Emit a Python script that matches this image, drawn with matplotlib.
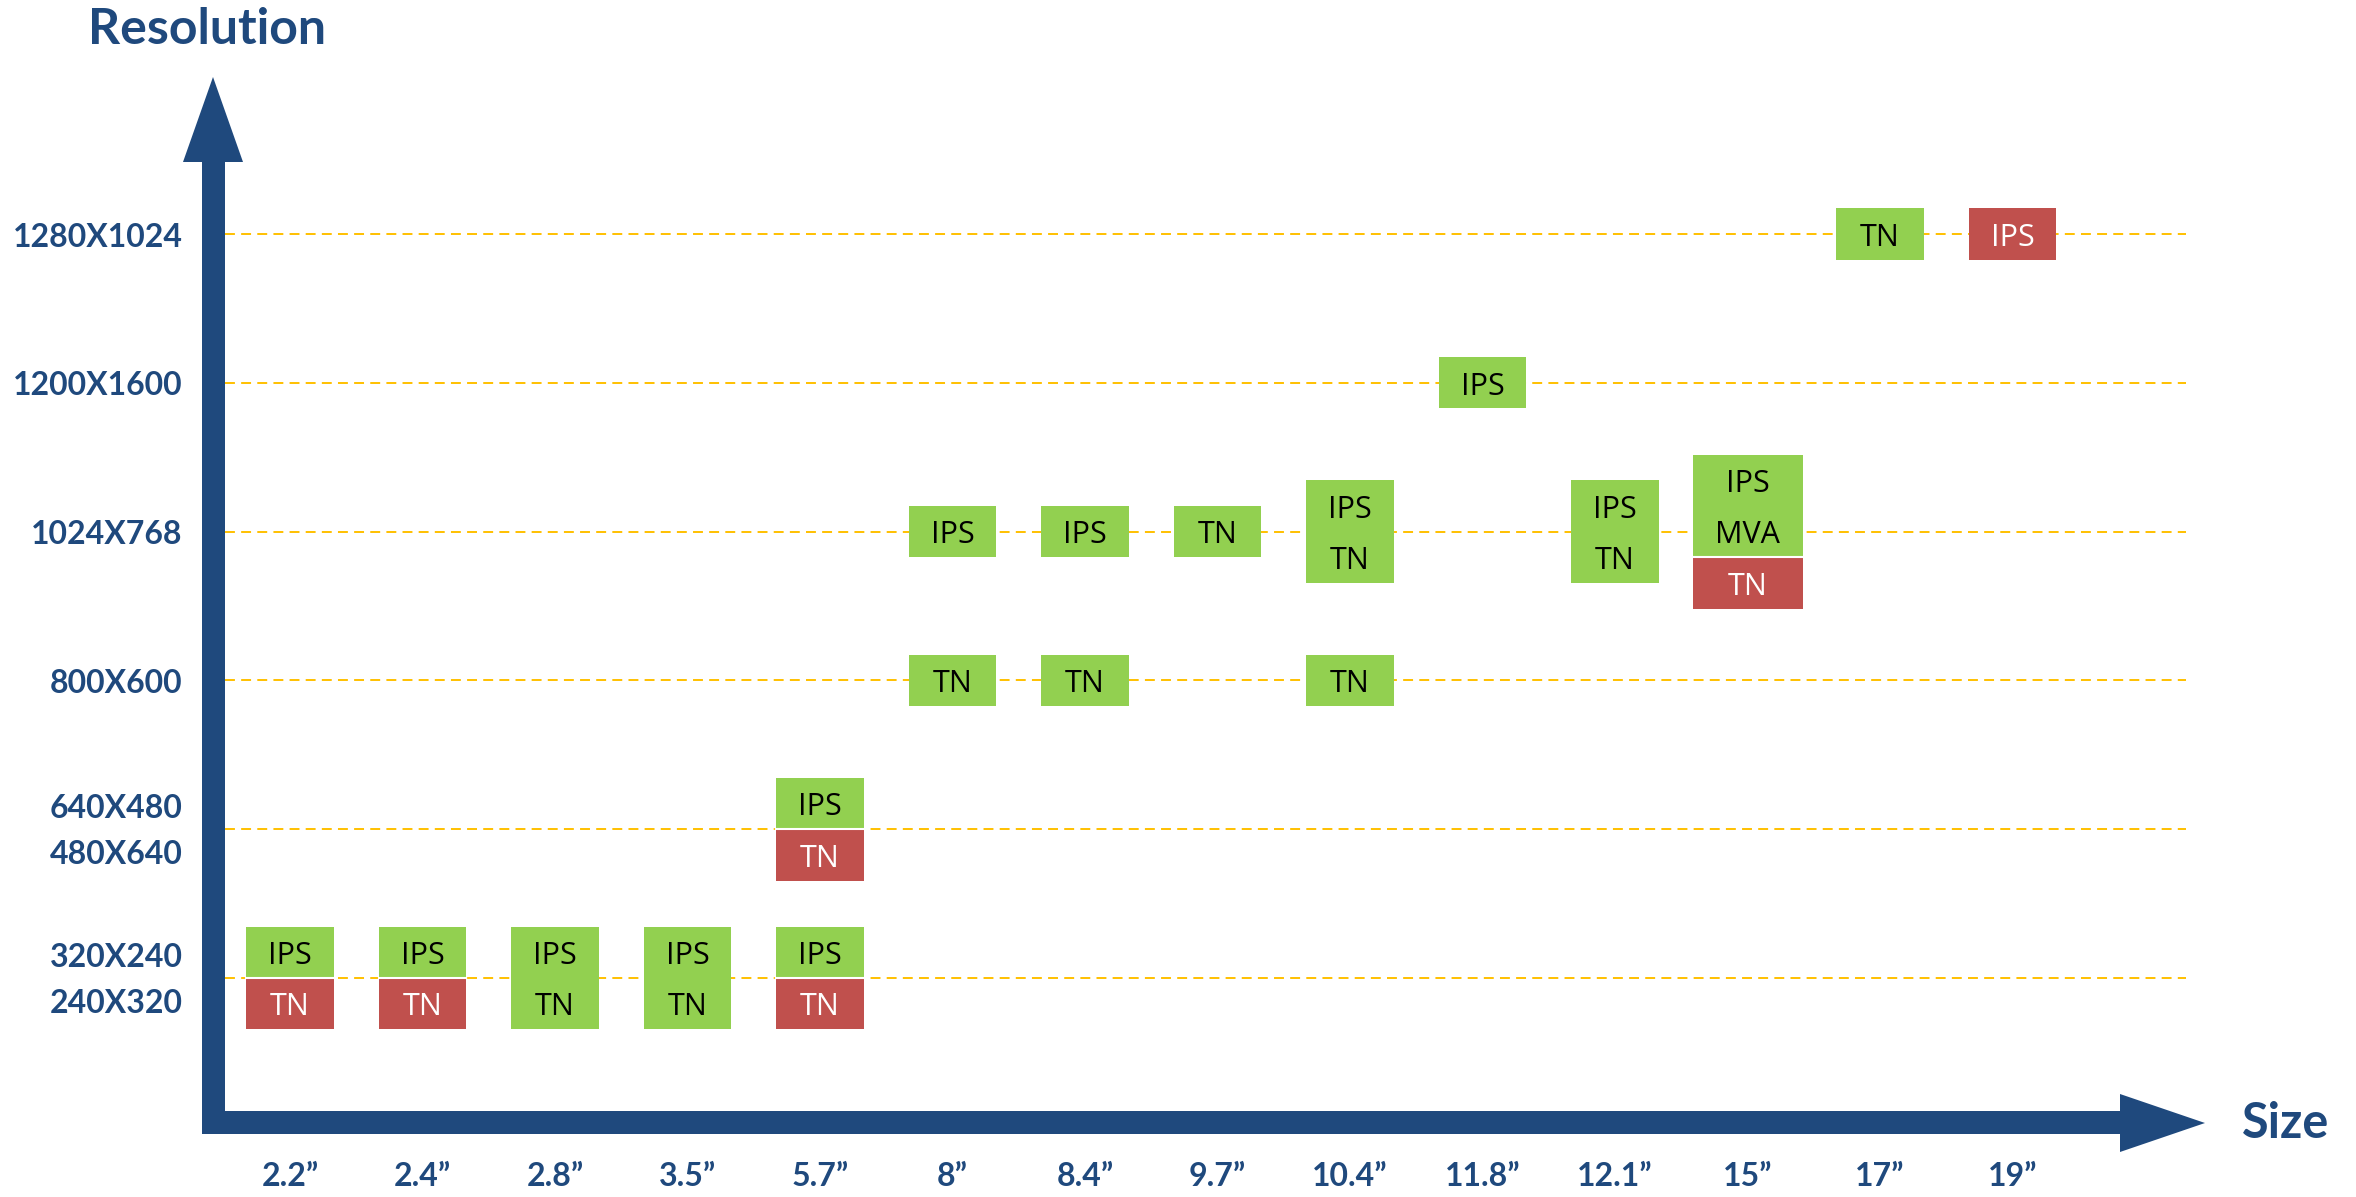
import matplotlib
matplotlib.use('Agg')
import matplotlib.pyplot as plt
from matplotlib.patches import Rectangle, Polygon
from matplotlib.transforms import Affine2D

W, H = 2356, 1197
BLUE = '#1F497D'
GREEN = '#92D050'
RED = '#C0504D'
GOLD = '#FFC000'

# screen sizes along the x axis
sizes = ['2.2”', '2.4”', '2.8”', '3.5”', '5.7”', '8”', '8.4”', '9.7”',
         '10.4”', '11.8”', '12.1”', '15”', '17”', '19”']

# resolution levels along the y axis (bottom to top), pairs share one line
res_levels = [['320X240', '240X320'], ['640X480', '480X640'], ['800X600'],
              ['1024X768'], ['1200X1600'], ['1280X1024']]

# one entry per stacked block: size, level, cell texts, cell colours (top first)
block_size = ['2.2”', '2.4”', '2.8”', '3.5”', '5.7”', '5.7”', '8”', '8”',
              '8.4”', '8.4”', '9.7”', '10.4”', '10.4”', '11.8”', '12.1”',
              '15”', '17”', '19”']
block_level = [0, 0, 0, 0, 0, 1, 3, 2, 3, 2, 3, 3, 2, 4, 3, 3, 5, 5]
block_text = [['IPS', 'TN'], ['IPS', 'TN'], ['IPS', 'TN'], ['IPS', 'TN'],
              ['IPS', 'TN'], ['IPS', 'TN'], ['IPS'], ['TN'], ['IPS'], ['TN'],
              ['TN'], ['IPS', 'TN'], ['TN'], ['IPS'], ['IPS', 'TN'],
              ['IPS', 'MVA', 'TN'], ['TN'], ['IPS']]
block_color = [['g', 'r'], ['g', 'r'], ['g', 'g'], ['g', 'g'], ['g', 'r'],
               ['g', 'r'], ['g'], ['g'], ['g'], ['g'], ['g'], ['g', 'g'],
               ['g'], ['g'], ['g', 'g'], ['g', 'g', 'r'], ['g'], ['r']]

colors = {'g': GREEN, 'r': RED}
text_colors = {'g': 'black', 'r': 'white'}

fig = plt.figure(figsize=(W / 100, H / 100), dpi=100)
ax = fig.add_axes([0, 0, 1, 1])
ax.set_xlim(-2.189, 15.592)
ax.set_ylim(-1.472, 6.573)
ax.axis('off')

# pixel transform (origin top-left) for the axis arrows
pix = Affine2D().scale(1, -1).translate(0, H).scale(1 / W, 1 / H) + fig.transFigure

y_arrow = [(202, 1134), (202, 162), (183, 162), (213, 77), (243, 162),
           (225, 162), (225, 1134)]
x_arrow = [(202, 1134), (202, 1111), (2120, 1111), (2120, 1094), (2205, 1123),
           (2120, 1152), (2120, 1134)]
for pts in (y_arrow, x_arrow):
    fig.patches.append(Polygon(pts, closed=True, transform=pix,
                               facecolor=BLUE, edgecolor='none', zorder=5))

fig.text(207 / W, 1 - 30 / H, 'Resolution', color=BLUE, fontsize=36,
         fontweight='bold', family='Lato', ha='center', va='center')
fig.text(2286 / W, 1 - 1124 / H, 'Size', color=BLUE, fontsize=35,
         fontweight='bold', family='Lato', ha='center', va='center')

# dashed guide lines and resolution labels
for lvl, labels in enumerate(res_levels):
    ax.plot([-0.49, 14.31], [lvl, lvl], color=GOLD, lw=1.4,
            dashes=(5.1, 3.2), zorder=1)
    if len(labels) == 1:
        offs = [-0.02]
    else:
        offs = [0.14, -0.17]
    for lab, off in zip(labels, offs):
        ax.text(-0.81, lvl + off, lab, color=BLUE, fontsize=23,
                fontweight='bold', family='Lato', ha='right', va='center')

# size labels
for i, s in enumerate(sizes):
    ax.text(i, -1.334, s, color=BLUE, fontsize=23, fontweight='bold',
            family='Lato', ha='center', va='center')

# stacked blocks
cell_h = 0.345
for s, lvl, texts, cols in zip(block_size, block_level, block_text, block_color):
    x = sizes.index(s)
    bw = 0.83 if len(texts) == 3 else 0.66
    top = lvl + cell_h * len(texts) / 2
    for k, (t, c) in enumerate(zip(texts, cols)):
        y0 = top - cell_h * (k + 1)
        ax.add_patch(Rectangle((x - bw / 2, y0), bw, cell_h, facecolor=colors[c],
                               edgecolor='none', zorder=3))
        ax.text(x, y0 + cell_h / 2 - 0.025, t, color=text_colors[c], fontsize=22,
                family='Open Sans', ha='center', va='center', zorder=4)
        if k > 0 and cols[k - 1] != c:
            ax.plot([x - bw / 2, x + bw / 2], [y0 + cell_h, y0 + cell_h],
                    color='white', lw=1.5, zorder=4)

fig.savefig('out.png', dpi=100)
